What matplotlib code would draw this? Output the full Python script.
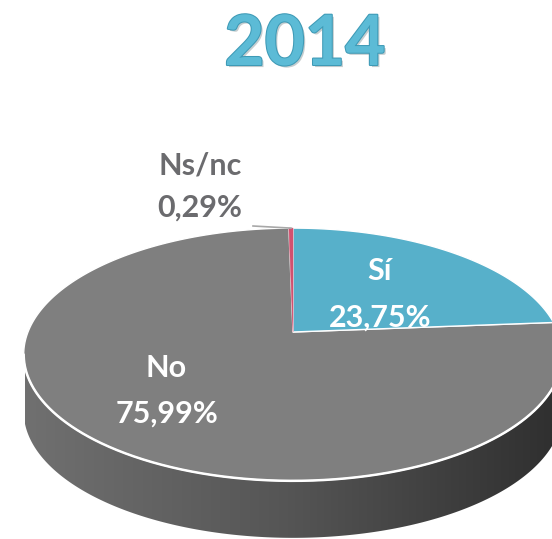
import numpy as np
import matplotlib.pyplot as plt
from matplotlib.patches import Polygon
from matplotlib.colors import LinearSegmentedColormap
import matplotlib.patheffects as pe

# data
labels = ['Sí', 'No', 'Ns/nc']
values = [23.75, 75.99, 0.29]
colors = ['#57B0CA', '#7F7F7F', '#D2506F']
title = '2014'

plt.rcParams['font.family'] = ['Lato', 'DejaVu Sans']

# 3D view, in pixel units
cx, cy = 293, 332
elev = np.radians(27.5)
dist = 4.987
focal = 1321.6
depth = 57


def project(theta):
    # theta in degrees, clockwise from 12 o'clock
    t = np.radians(theta)
    X, Z = np.sin(t), np.cos(t)
    w = dist + Z * np.cos(elev)
    return cx + focal * X / w, cy - focal * Z * np.sin(elev) / w


fig = plt.figure(figsize=(5.52, 5.39), dpi=100)
ax = fig.add_axes([0, 0, 1, 1])
ax.axis('off')

# side of the cylinder
th = np.linspace(0, 360, 1441)
px, py = project(th)
i_max, i_min = np.argmax(px), np.argmin(px)
sx, sy = px[i_max:i_min + 1], py[i_max:i_min + 1]
side_pts = np.column_stack([np.r_[sx, sx[::-1]], np.r_[sy, sy[::-1] + depth]])
side = Polygon(side_pts, facecolor='none', edgecolor='none')
ax.add_patch(side)
cmap = LinearSegmentedColormap.from_list('side', ['#707070', '#555555', '#303030'])
grad = np.linspace(0, 1, 256)[None, :]
im = ax.imshow(grad, cmap=cmap, extent=[25, 552, 540, 300], aspect='auto')
im.set_clip_path(side)

# top face
frac = np.array(values) / sum(values)
edges = np.r_[0, np.cumsum(frac)] * 360
for i in [1, 0, 2]:
    t = np.linspace(edges[i], edges[i + 1], 400)
    ax_, ay_ = project(t)
    pts = np.column_stack([np.r_[cx, ax_], np.r_[cy, ay_]])
    if i == 2:
        ax.add_patch(Polygon(pts, facecolor=colors[i], edgecolor=colors[i], lw=0.4))
    else:
        ax.add_patch(Polygon(pts, facecolor=colors[i], edgecolor='white', lw=1.0))

# white rim between top and side
ax.plot(sx, sy, color='white', lw=1.8, solid_capstyle='round')

# labels
def fmt(v):
    return f'{v:.2f}'.replace('.', ',') + '%'

lab_style = dict(fontsize=22, fontweight='bold', ha='center', va='baseline')
ax.text(380, 280, labels[0], color='white', **lab_style)
ax.text(380, 327, fmt(values[0]), color='white', **lab_style)
ax.text(166, 377, labels[1], color='white', **lab_style)
ax.text(167, 423, fmt(values[1]), color='white', **lab_style)
ax.text(200, 175, labels[2], color='#6B6B6E', **lab_style)
ax.text(200, 217, fmt(values[2]), color='#6B6B6E', **lab_style)

# leader line for the small slice
lx, ly = project((edges[2] + edges[3]) / 2)
ax.plot([253, lx], [226, ly], color='#A8A8A8', lw=1.2)

# title
ax.text(305, 65, title, fontsize=50, fontweight='bold', color='#5CBBD6',
        ha='center', va='baseline',
        path_effects=[pe.SimplePatchShadow(offset=(1.5, -1.5), alpha=0.25),
                      pe.withStroke(linewidth=1.5, foreground='#3E9AB6')])

ax.set_xlim(0, 552)
ax.set_ylim(539, 0)

fig.savefig('out.png', dpi=100)
